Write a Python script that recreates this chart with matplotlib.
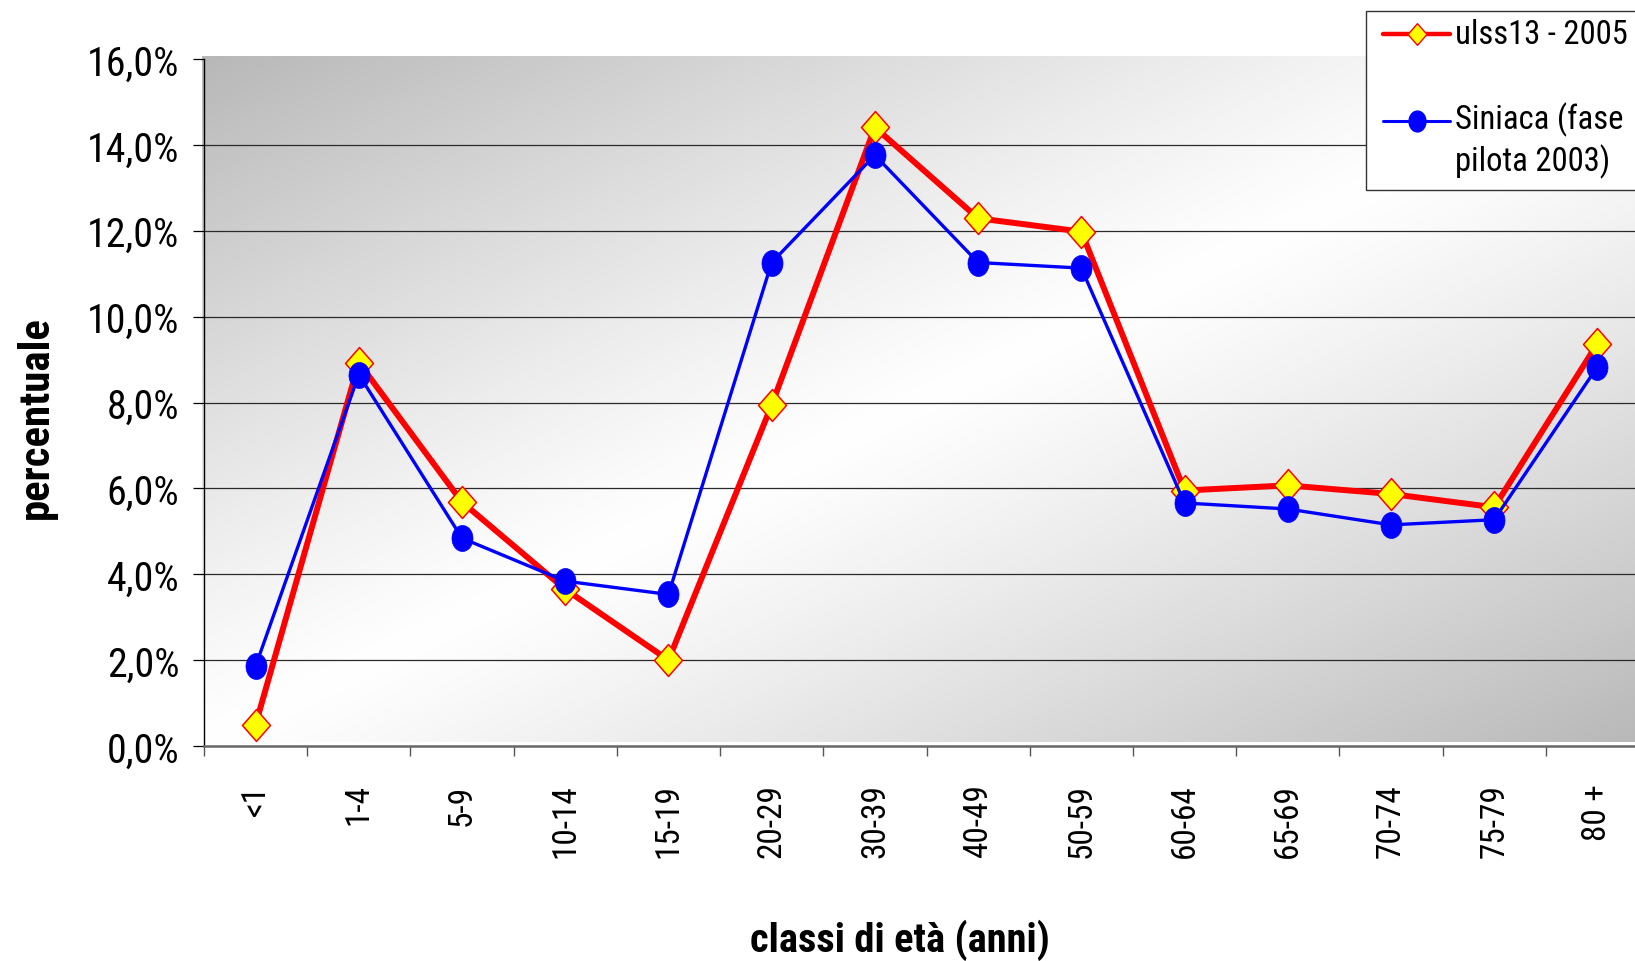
import os
import numpy as np
import matplotlib
matplotlib.use("Agg")
import matplotlib.pyplot as plt
from matplotlib import font_manager as fm
from matplotlib.path import Path
from matplotlib.patches import Rectangle
from matplotlib.lines import Line2D

# ---------------- data ----------------
categories = ["<1", "1-4", "5-9", "10-14", "15-19", "20-29", "30-39",
              "40-49", "50-59", "60-64", "65-69", "70-74", "75-79", "80 +"]
ulss13_2005 = [0.50, 8.93, 5.68, 3.65, 2.00, 7.94, 14.41,
               12.29, 11.98, 5.95, 6.07, 5.87, 5.56, 9.37]
siniaca_2003 = [1.86, 8.65, 4.84, 3.84, 3.53, 11.26, 13.76,
                11.26, 11.13, 5.66, 5.52, 5.15, 5.27, 8.83]
y_ticks = [0, 2, 4, 6, 8, 10, 12, 14, 16]
y_tick_labels = ["0,0%", "2,0%", "4,0%", "6,0%", "8,0%", "10,0%",
                 "12,0%", "14,0%", "16,0%"]
series_labels = ["ulss13 - 2005", "Siniaca (fase\npilota 2003)"]
x_title = "classi di età (anni)"
y_title = "percentuale"


# ---------------- fonts: prefer a narrow sans (Arial Narrow look) ----------------
def _weight(f):
    w = f.weight
    if isinstance(w, str):
        w = fm.weight_dict.get(w, 400)
    return int(w)


def find_narrow(bold):
    prefs = ["liberationsansnarrow", "arialnarrow", "robotocondensed",
             "opensanscondensed"]
    for pref in prefs:
        for f in fm.fontManager.ttflist:
            key = (f.name + os.path.basename(f.fname)).lower()
            key = key.replace(" ", "").replace("-", "").replace("_", "")
            if pref in key and f.style == "normal":
                wt = _weight(f)
                if (bold and wt >= 600) or (not bold and 350 <= wt < 600):
                    return fm.FontProperties(fname=f.fname)
    return None


fp_reg = find_narrow(False) or fm.FontProperties(family=["Liberation Sans", "DejaVu Sans"])
fp_bold = find_narrow(True) or fm.FontProperties(family=["Liberation Sans", "DejaVu Sans"],
                                                 weight="bold")

W, H = 1635, 962
fig = plt.figure(figsize=(W / 100, H / 100), dpi=100)
fig.patch.set_facecolor("white")
renderer = fig.canvas.get_renderer()


def sized(fp, text, target_px):
    """Font properties whose size makes `text` about target_px wide."""
    p = fp.copy()
    p.set_size(100)
    t = fig.text(0, 0, text, fontproperties=p)
    w = t.get_window_extent(renderer).width
    t.remove()
    p = fp.copy()
    p.set_size(100 * target_px / w)
    return p


fp_ytick = sized(fp_reg, "16,0%", 92)
fp_xtick = sized(fp_reg, "10-14", 74)
fp_leg = sized(fp_reg, "ulss13 - 2005", 173)
fp_xtitle = sized(fp_bold, x_title, 300)
fp_ytitle = sized(fp_bold, y_title, 203)

# ---------------- axes ----------------
ax_left, ax_right, ax_top, ax_bot = 204, 1649, 60, 747
ax = fig.add_axes([ax_left / W, 1 - ax_bot / H,
                   (ax_right - ax_left) / W, (ax_bot - ax_top) / H])
ax.set_facecolor("white")

diamond = Path([(0, 1), (0.875, 0), (0, -1), (-0.875, 0), (0, 1)],
               [Path.MOVETO, Path.LINETO, Path.LINETO, Path.LINETO, Path.CLOSEPOLY])
tt = np.linspace(0, 2 * np.pi, 72)
ellipse = Path(np.column_stack([0.81 * np.cos(tt), np.sin(tt)]), closed=True)

n = len(categories)
x = np.arange(n)
ax.set_xlim(-0.5, n - 0.5)
ax.set_ylim(y_ticks[0], y_ticks[-1])

# gradient background (grey corners, white diagonal band)
gh, gw = 300, 600
rows = np.linspace(0, 1, gh)[:, None]
cols = np.linspace(0, 1, gw)[None, :]
t = (rows + cols) / 2.0
c = 1 - 0.28 * (np.abs(t - 0.5) * 2) ** 1.15
rgb = np.dstack([c, c, c])
ax.imshow(rgb, extent=(-0.522, n - 0.5, y_ticks[0] + 0.1, y_ticks[-1] + 0.075),
          aspect="auto", interpolation="bilinear", zorder=0, clip_on=False)

# grid
ax.set_yticks(y_ticks)
ax.set_yticklabels(y_tick_labels, fontproperties=fp_ytick)
ax.yaxis.grid(True, color="#2a2a2a", lw=0.9)
gl = ax.get_ygridlines()
gl[0].set_visible(False)
gl[-1].set_visible(False)
for g in gl:
    g.set_zorder(1)

# series
ax.plot(x, ulss13_2005, color="#ff0000", lw=4.3, marker=diamond, ms=23,
        mfc="#ffff00", mec="#ff0000", mew=1.1, zorder=3)
ax.plot(x, siniaca_2003, color="#0000ff", lw=2.4, marker=ellipse, ms=18.7,
        mfc="#0000ff", mec="#0000ff", mew=0.5, zorder=4)

# axes styling
for s in ("top", "right"):
    ax.spines[s].set_visible(False)
ax.spines["left"].set_color("black")
ax.spines["left"].set_linewidth(1.0)
ax.spines["bottom"].set_color("#666666")
ax.spines["bottom"].set_linewidth(1.8)
ax.spines["left"].set_zorder(5)
ax.spines["bottom"].set_zorder(5)

ax.set_xticks(x)
ax.set_xticklabels(categories, rotation=90, fontproperties=fp_xtick)
ax.set_xticks(np.arange(-0.5, n, 1), minor=True)
ax.tick_params(axis="x", which="major", length=0, pad=27)
ax.tick_params(axis="x", which="minor", length=7.2, width=1.0, color="#555555")
ax.tick_params(axis="y", which="major", length=7.9, width=0.9, color="black", pad=10)

ax.set_xlabel(x_title, fontproperties=fp_xtitle, va="center")
ax.xaxis.set_label_coords((900 - ax_left) / (ax_right - ax_left),
                          (ax_bot - 940) / (ax_bot - ax_top))
ax.set_ylabel(y_title, fontproperties=fp_ytitle, va="center")
ax.yaxis.set_label_coords((36 - ax_left) / (ax_right - ax_left),
                          (ax_bot - 418) / (ax_bot - ax_top))

# ---------------- legend (drawn in pixel space) ----------------
lax = fig.add_axes([0, 0, 1, 1], zorder=10)
lax.set_xlim(0, W)
lax.set_ylim(H, 0)
lax.axis("off")
lax.add_patch(Rectangle((1366, 12.3), 400, 178.4, facecolor="white",
                        edgecolor="#333333", lw=1.0))
key_x = [1383, 1416.5, 1450]
lax.add_line(Line2D(key_x, [35, 35, 35], color="#ff0000", lw=3.2,
                    solid_capstyle="round", marker=diamond, markevery=[1],
                    ms=15.6, mfc="#ffff00", mec="#ff0000", mew=1.0))
lax.add_line(Line2D(key_x, [121.5, 121.5, 121.5], color="#0000ff", lw=2.2,
                    solid_capstyle="round", marker=ellipse, markevery=[1],
                    ms=15, mfc="#0000ff", mec="#0000ff"))
lax.text(1455, 35, series_labels[0], fontproperties=fp_leg, va="center", ha="left")
lines2 = series_labels[1].split("\n")
lax.text(1455, 120, lines2[0], fontproperties=fp_leg, va="center", ha="left")
lax.text(1455, 161.7, lines2[1], fontproperties=fp_leg, va="center", ha="left")

fig.savefig("out.png", dpi=100, facecolor="white")
